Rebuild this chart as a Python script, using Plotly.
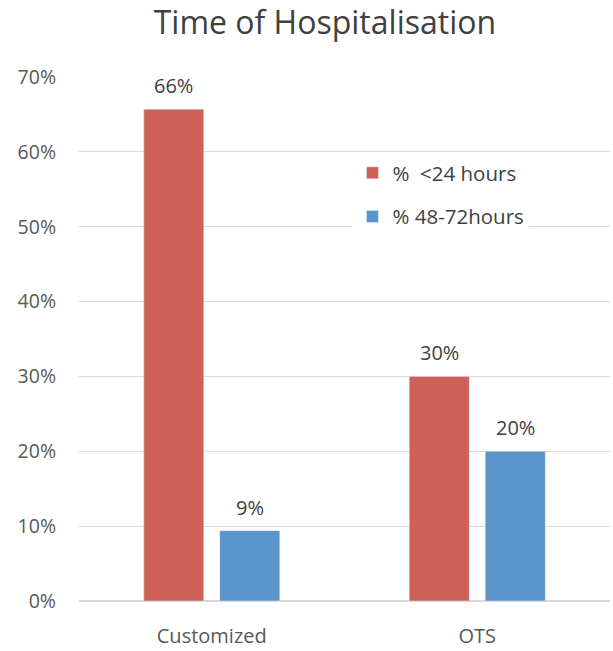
import plotly.graph_objects as go

categories = ["Customized", "OTS"]
lt24_values = [65.7, 30.0]
lt24_labels = ["66%", "30%"]
h48_values = [9.4, 20.0]
h48_labels = ["9%", "20%"]
tick_vals = [0, 10, 20, 30, 40, 50, 60, 70]
tick_text = ["0%", "10%", "20%", "30%", "40%", "50%", "60%", "70%"]

FONT = "'Open Sans', sans-serif"
RED = "#CD6158"
BLUE = "#5B94CB"

fig = go.Figure()
fig.add_trace(go.Bar(x=categories, y=lt24_values, name="%  <24 hours",
                     marker_color=RED, legendgroup="a"))
fig.add_trace(go.Bar(x=categories, y=h48_values, name="% 48-72hours",
                     marker_color=BLUE, legendgroup="b"))

annotations = []
for vals, labels, shift in ((lt24_values, lt24_labels, -38), (h48_values, h48_labels, 38)):
    for c, v, t in zip(categories, vals, labels):
        annotations.append(dict(x=c, y=v, text=t, showarrow=False,
                                xref="x", yref="y", xshift=shift, yshift=8,
                                yanchor="bottom",
                                font=dict(size=20, color="#404040", family=FONT)))

fig.update_layout(
    width=613, height=651,
    margin=dict(l=79, r=3, t=77, b=50),
    paper_bgcolor="white", plot_bgcolor="white",
    font=dict(family=FONT, color="#595959", size=17),
    title=dict(text="Time of Hospitalisation", x=0.53, xanchor="center",
               y=0.965, yanchor="middle",
               font=dict(size=32, color="#404040", family=FONT)),
    barmode="group", bargap=0.4275, bargroupgap=0.21,
    legend=dict(x=0.515, y=0.855, xanchor="left", yanchor="top",
                bgcolor="white", font=dict(size=20.5, color="#404040", family=FONT),
                tracegroupgap=14, traceorder="grouped"),
    showlegend=True,
    annotations=annotations,
)
fig.update_yaxes(range=[0, 70], tickvals=tick_vals, ticktext=tick_text,
                 showgrid=True, gridcolor="#D9D9D9", gridwidth=1,
                 zeroline=True, zerolinecolor="#D9D9D9", showline=False,
                 ticks="", ticklabelstandoff=22,
                 tickfont=dict(size=19.5, color="#595959", family=FONT))
fig.update_xaxes(showline=False, ticks="", ticklabelstandoff=21,
                 tickfont=dict(size=20, color="#595959", family=FONT))

fig.write_html("out.html", config={"displayModeBar": False},
               post_script="document.body.style.margin='0';")
